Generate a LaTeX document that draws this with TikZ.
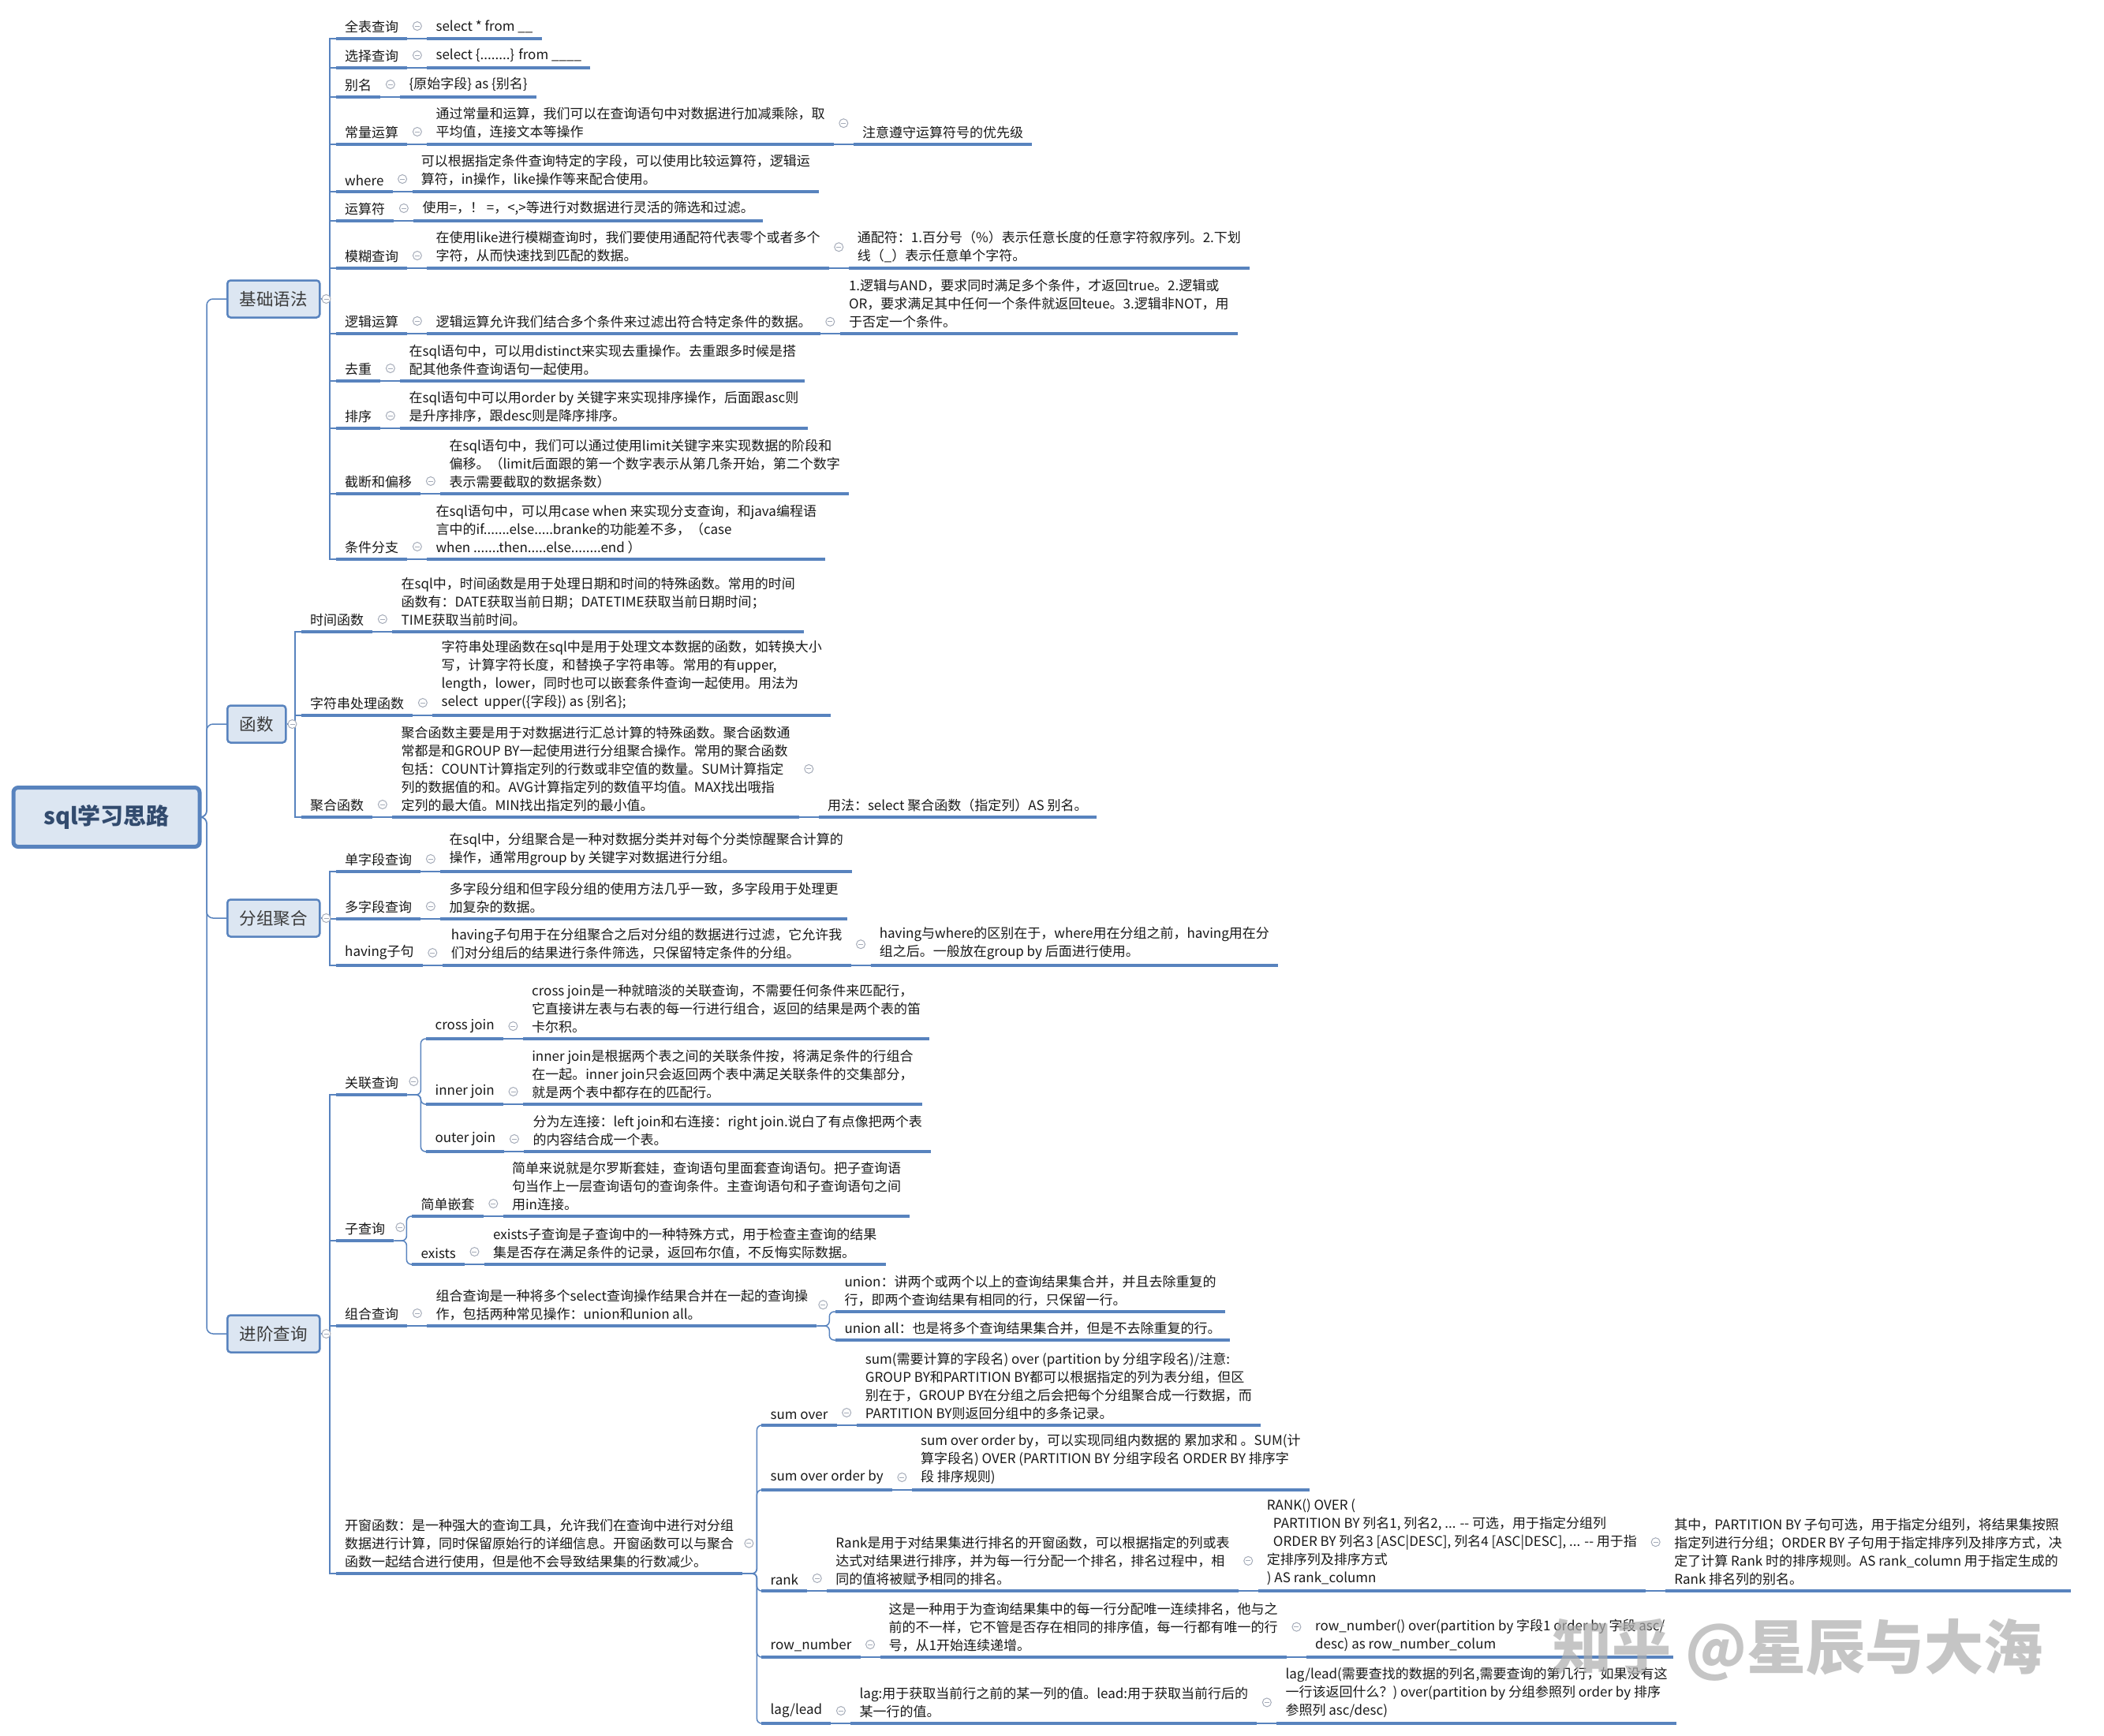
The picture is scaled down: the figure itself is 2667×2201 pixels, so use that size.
\documentclass[tikz,border=0pt]{standalone}
\usepackage{fontspec}
\setmainfont{Noto Sans CJK SC}
\usetikzlibrary{calc}
\definecolor{ln}{RGB}{88,131,190}
\definecolor{bxfill}{RGB}{220,230,242}
\definecolor{txt}{RGB}{25,25,25}
\definecolor{clc}{RGB}{165,172,185}
\definecolor{ttl}{RGB}{50,75,110}
\tikzset{
 lbl/.style={anchor=south west, inner xsep=11pt, inner ysep=7pt, align=left, text=txt, font=\fontsize{17}{23}\selectfont},
 dsc/.style={lbl},
 ul/.style={draw=ln, line width=4pt},
 conn/.style={draw=ln, line width=1.5pt},
 clps/.style={draw=clc, line width=1pt},
 l1box/.style={draw=ln, line width=2.5pt, fill=bxfill, rounded corners=4pt, minimum height=47pt, inner xsep=15.5pt, font=\fontsize{21.5}{24}\selectfont, text=txt!85, anchor=west},
 mainbox/.style={draw=ln, line width=5pt, fill=bxfill, rounded corners=6pt, minimum width=236pt, minimum height=75pt, font=\bfseries\fontsize{29}{32}\selectfont, text=ttl},
 wmark/.style={font=\bfseries\fontsize{75}{80}\selectfont, text=black!32, opacity=0.7}
}
% collapse marker
\newcommand\clp[1]{\coordinate (cc) at (#1);
 \draw[clps,fill=white] (cc) circle[radius=5.5pt];
 \draw[clps] ([xshift=-3pt]cc) -- ([xshift=3pt]cc);}
% label + description row
\newcommand\LD[4]{%
 \node[lbl] (#1) at (#2) {#3};
 \node[dsc] (#1d) at ($(#1.south east)+(25,0)$) {#4};
 \draw[ul] (#1.south west) -- (#1.south east);
 \draw[ul] (#1d.south west) -- (#1d.south east);
 \draw[conn] (#1.south east) -- (#1d.south west);
 \clp{$(#1.south east)+(12.5,-16)$}}
% child of a description
\newcommand\DC[3]{%
 \node[dsc] (#2) at ($(#1.south east)+(25,0)$) {#3};
 \draw[ul] (#2.south west) -- (#2.south east);
 \draw[conn] (#1.south east) -- (#2.south west);
 \clp{$(#1.east)+(12.5,0)$}}
% underline a single node
\newcommand\UL[1]{\draw[ul] (#1.south west) -- (#1.south east);}
% trunk connector
\newcommand\TR[3]{\draw[conn] (#1.east) -- (#2,0 |- #1.east) |- (#3.south west);}
% curved bracket connector
\newcommand\BR[3]{\draw[conn, rounded corners=6pt] (#1.south east) -- ++(#2,0) |- (#3.south west);}

\begin{document}
\begin{tikzpicture}[x=1pt,y=-1pt]
\fill[white] (0,0) rectangle (2667,2201);
\useasboundingbox (0,0) rectangle (2667,2201);

% ===== root and level 1
\node[mainbox] (root) at (135,1036) {sql学习思路};
\node[l1box] (b1) at (287,379) {基础语法};
\node[l1box] (b2) at (287,918) {函数};
\node[l1box] (b3) at (287,1164) {分组聚合};
\node[l1box] (b4) at (287,1691) {进阶查询};
\foreach \b in {b1,b2,b3,b4}{
 \draw[conn, rounded corners=8pt] (root.east) -- (262,0 |- root.east) |- (\b.west);
}

% ===== 基础语法
\LD{a1}{426,49}{全表查询}{select * from \_\_}
\LD{a2}{426,86}{选择查询}{select \{........\} from \_\_\_\_}
\LD{a3}{426,123}{别名}{\{原始字段\} as \{别名\}}
\LD{a4}{426,183}{常量运算}{通过常量和运算，我们可以在查询语句中对数据进行加减乘除，取\\平均值，连接文本等操作}
\DC{a4d}{a4c}{注意遵守运算符号的优先级}
\LD{a5}{426,243}{where}{可以根据指定条件查询特定的字段，可以使用比较运算符，逻辑运\\算符，in操作，like操作等来配合使用。}
\LD{a6}{426,280}{运算符}{使用=，！ =，<,>等进行对数据进行灵活的筛选和过滤。}
\LD{a7}{426,340}{模糊查询}{在使用like进行模糊查询时，我们要使用通配符代表零个或者多个\\字符，从而快速找到匹配的数据。}
\DC{a7d}{a7c}{通配符：1.百分号（\%）表示任意长度的任意字符叙序列。2.下划\\线（\_）表示任意单个字符。}
\LD{a8}{426,423}{逻辑运算}{逻辑运算允许我们结合多个条件来过滤出符合特定条件的数据。}
\DC{a8d}{a8c}{1.逻辑与AND，要求同时满足多个条件，才返回true。2.逻辑或\\OR，要求满足其中任何一个条件就返回teue。3.逻辑非NOT，用\\于否定一个条件。}
\LD{a9}{426,483}{去重}{在sql语句中，可以用distinct来实现去重操作。去重跟多时候是搭\\配其他条件查询语句一起使用。}
\LD{a10}{426,543}{排序}{在sql语句中可以用order by 关键字来实现排序操作，后面跟asc则\\是升序排序，跟desc则是降序排序。}
\LD{a11}{426,626}{截断和偏移}{在sql语句中，我们可以通过使用limit关键字来实现数据的阶段和\\偏移。（limit后面跟的第一个数字表示从第几条开始，第二个数字\\表示需要截取的数据条数）}
\LD{a12}{426,709}{条件分支}{在sql语句中，可以用case when 来实现分支查询，和java编程语\\言中的if.......else.....branke的功能差不多，（case\\when .......then.....else........end ）}
\foreach \i in {1,...,12}{\TR{b1}{418}{a\i}}
\clp{$(b1.east)+(7,0)$}

% ===== 函数
\LD{f1}{382,801}{时间函数}{在sql中，时间函数是用于处理日期和时间的特殊函数。常用的时间\\函数有：DATE获取当前日期；DATETIME获取当前日期时间；\\TIME获取当前时间。}
\LD{f2}{382,907}{字符串处理函数}{字符串处理函数在sql中是用于处理文本数据的函数，如转换大小\\写，计算字符长度，和替换子字符串等。常用的有upper,\\length，lower，同时也可以嵌套条件查询一起使用。用法为\\select\ \ upper(\{字段\}) as \{别名\};}
\LD{f3}{382,1036}{聚合函数}{聚合函数主要是用于对数据进行汇总计算的特殊函数。聚合函数通\\常都是和GROUP BY一起使用进行分组聚合操作。常用的聚合函数\\包括：COUNT计算指定列的行数或非空值的数量。SUM计算指定\\列的数据值的和。AVG计算指定列的数值平均值。MAX找出哦指\\定列的最大值。MIN找出指定列的最小值。}
\DC{f3d}{f3c}{用法：select 聚合函数（指定列）AS 别名。}
\foreach \i in {1,2,3}{\TR{b2}{374}{f\i}}
\clp{$(b2.east)+(7,0)$}

% ===== 分组聚合
\LD{g1}{426,1105}{单字段查询}{在sql中，分组聚合是一种对数据分类并对每个分类惊醒聚合计算的\\操作，通常用group by 关键字对数据进行分组。}
\LD{g2}{426,1165}{多字段查询}{多字段分组和但字段分组的使用方法几乎一致，多字段用于处理更\\加复杂的数据。}
\LD{g3}{426,1224}{having子句}{having子句用于在分组聚合之后对分组的数据进行过滤，它允许我\\们对分组后的结果进行条件筛选，只保留特定条件的分组。}
\DC{g3d}{g3c}{having与where的区别在于，where用在分组之前，having用在分\\组之后。一般放在group by 后面进行使用。}
\foreach \i in {1,2,3}{\TR{b3}{418}{g\i}}
\clp{$(b3.east)+(7,0)$}

% ===== 进阶查询
% 关联查询
\node[lbl] (h1) at (426,1388) {关联查询};
\UL{h1}
\clp{$(h1.south east)+(8,-17)$}
\coordinate (h1x) at ($(h1.south east)+(24,0)$);
\LD{j1}{h1x |- 0,1317}{cross join}{cross join是一种就暗淡的关联查询，不需要任何条件来匹配行，\\它直接讲左表与右表的每一行进行组合，返回的结果是两个表的笛\\卡尔积。}
\LD{j2}{h1x |- 0,1400}{inner join}{inner join是根据两个表之间的关联条件按，将满足条件的行组合\\在一起。inner join只会返回两个表中满足关联条件的交集部分，\\就是两个表中都存在的匹配行。}
\LD{j3}{h1x |- 0,1460}{outer join}{分为左连接：left join和右连接：right join.说白了有点像把两个表\\的内容结合成一个表。}
\foreach \c in {j1,j2,j3}{\BR{h1}{17}{\c}}

% 子查询
\node[lbl] (h2) at (426,1573) {子查询};
\UL{h2}
\clp{$(h2.south east)+(8,-17)$}
\coordinate (h2x) at ($(h2.south east)+(23,0)$);
\LD{k1}{h2x |- 0,1542}{简单嵌套}{简单来说就是尔罗斯套娃，查询语句里面套查询语句。把子查询语\\句当作上一层查询语句的查询条件。主查询语句和子查询语句之间\\用in连接。}
\LD{k2}{h2x |- 0,1603}{exists}{exists子查询是子查询中的一种特殊方式，用于检查主查询的结果\\集是否存在满足条件的记录，返回布尔值，不反悔实际数据。}
\foreach \c in {k1,k2}{\BR{h2}{16}{\c}}

% 组合查询
\LD{h3}{426,1681}{组合查询}{组合查询是一种将多个select查询操作结果合并在一起的查询操\\作，包括两种常见操作：union和union all。}
\coordinate (h3x) at ($(h3d.south east)+(24,0)$);
\node[dsc] (m1) at (h3x |- 0,1663) {union：讲两个或两个以上的查询结果集合并，并且去除重复的\\行，即两个查询结果有相同的行，只保留一行。};
\node[dsc] (m2) at (h3x |- 0,1699) {union all：也是将多个查询结果集合并，但是不去除重复的行。};
\UL{m1} \UL{m2}
\clp{$(h3d.east)+(8,0)$}
\foreach \c in {m1,m2}{\BR{h3d}{16}{\c}}

% 开窗函数
\node[lbl] (h4) at (426,1995) {开窗函数：是一种强大的查询工具，允许我们在查询中进行对分组\\数据进行计算，同时保留原始行的详细信息。开窗函数可以与聚合\\函数一起结合进行使用，但是他不会导致结果集的行数减少。};
\UL{h4}
\clp{$(h4.east)+(8,0)$}
\coordinate (h4x) at ($(h4.south east)+(24,0)$);
\LD{w1}{h4x |- 0,1807}{sum over}{sum(需要计算的字段名) over (partition by 分组字段名)/注意:\\GROUP BY和PARTITION BY都可以根据指定的列为表分组，但区\\别在于，GROUP BY在分组之后会把每个分组聚合成一行数据，而\\PARTITION BY则返回分组中的多条记录。}
\LD{w2}{h4x |- 0,1889}{sum over order by}{sum over order by，可以实现同组内数据的 累加求和 。SUM(计\\算字段名) OVER (PARTITION BY 分组字段名 ORDER BY 排序字\\段 排序规则)}
\LD{w3}{h4x |- 0,2017}{rank}{Rank是用于对结果集进行排名的开窗函数，可以根据指定的列或表\\达式对结果进行排序，并为每一行分配一个排名，排名过程中，相\\同的值将被赋予相同的排名。}
\DC{w3d}{w3c}{RANK() OVER (\\\hspace*{8pt}PARTITION BY 列名1, 列名2, ... -{}- 可选，用于指定分组列\\\hspace*{8pt}ORDER BY 列名3 [ASC|DESC], 列名4 [ASC|DESC], ... -{}- 用于指\\定排序列及排序方式\\) AS rank\_column}
\DC{w3c}{w3g}{其中，PARTITION BY 子句可选，用于指定分组列，将结果集按照\\指定列进行分组；ORDER BY 子句用于指定排序列及排序方式，决\\定了计算 Rank 时的排序规则。AS rank\_column 用于指定生成的\\Rank 排名列的别名。}
\LD{w4}{h4x |- 0,2101}{row\_number}{这是一种用于为查询结果集中的每一行分配唯一连续排名，他与之\\前的不一样，它不管是否存在相同的排序值，每一行都有唯一的行\\号，从1开始连续递增。}
\DC{w4d}{w4c}{row\_number() over(partition by 字段1 order by 字段 asc/\\desc) as row\_number\_colum}
\LD{w5}{h4x |- 0,2185}{lag/lead}{lag:用于获取当前行之前的某一列的值。lead:用于获取当前行后的\\某一行的值。}
\DC{w5d}{w5c}{lag/lead(需要查找的数据的列名,需要查询的第几行，如果没有这\\一行该返回什么？) over(partition by 分组参照列 order by 排序\\参照列 asc/desc)}
\foreach \c in {w1,w2,w3,w4,w5}{\BR{h4}{18}{\c}}

\foreach \c in {h1,h2,h3,h4}{\TR{b4}{418}{\c}}
\clp{$(b4.east)+(7,0)$}

% watermark
\node[wmark] (wm) at (2279,2092) {知乎 @星辰与大海};
\end{tikzpicture}
\end{document}
